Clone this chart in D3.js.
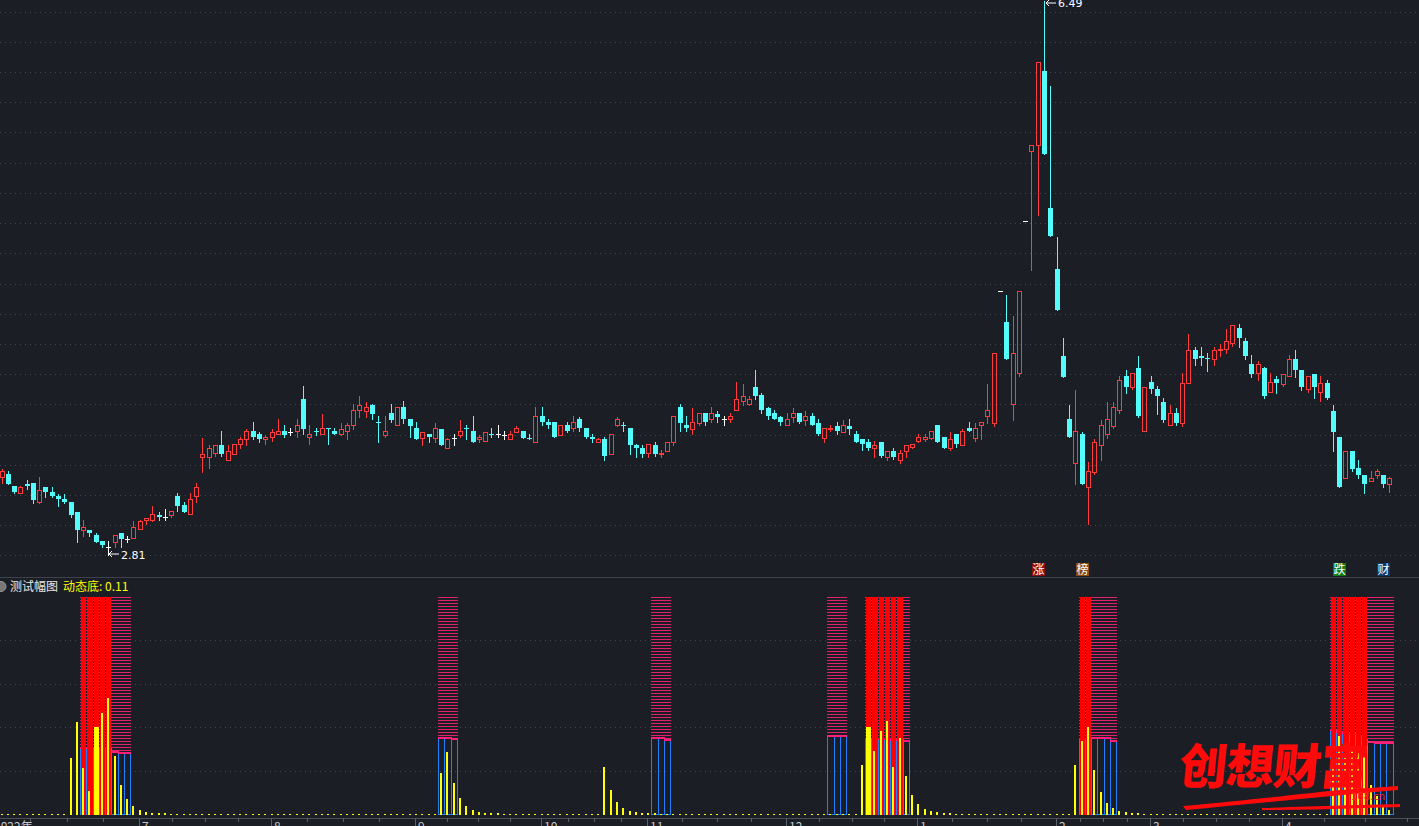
<!DOCTYPE html>
<html><head><meta charset="utf-8">
<script src="https://cdn.jsdelivr.net/npm/d3@7"></script>
<style>html,body{margin:0;padding:0;background:#1b1e25;overflow:hidden}svg{display:block}</style>
</head><body><svg id="c" width="1419" height="826"></svg>
<script>
// ---- price data (daily candles) ----
const openP=[3.29,3.31,3.23,3.18,3.24,3.25,3.12,3.22,3.19,3.16,3.14,3.12,3.05,2.93,2.93,2.90,2.86,2.82,2.85,2.91,2.87,2.88,2.94,3.00,3.00,3.03,3.02,3.03,3.16,3.10,3.04,3.16,3.42,3.42,3.45,3.50,3.40,3.44,3.51,3.54,3.60,3.58,3.54,3.56,3.58,3.60,3.59,3.60,3.81,3.56,3.60,3.58,3.62,3.60,3.58,3.60,3.64,3.74,3.73,3.77,3.66,3.57,3.72,3.64,3.76,3.68,3.62,3.55,3.58,3.55,3.61,3.48,3.55,3.57,3.62,3.60,3.54,3.53,3.58,3.58,3.57,3.54,3.59,3.60,3.55,3.52,3.70,3.66,3.66,3.57,3.64,3.62,3.68,3.62,3.56,3.52,3.54,3.44,3.64,3.64,3.62,3.50,3.48,3.45,3.50,3.44,3.46,3.52,3.76,3.64,3.61,3.65,3.72,3.68,3.71,3.68,3.68,3.74,3.80,3.78,3.89,3.84,3.75,3.72,3.69,3.64,3.69,3.72,3.67,3.70,3.65,3.55,3.61,3.63,3.59,3.63,3.58,3.54,3.52,3.48,3.52,3.42,3.46,3.40,3.46,3.49,3.53,3.54,3.55,3.64,3.56,3.48,3.58,3.50,3.62,3.55,3.64,3.70,3.65,4.54,4.33,3.78,3.99,5.01,5.48,5.52,6.02,5.10,4.69,4.10,3.68,3.38,3.58,3.22,3.32,3.50,3.58,3.63,3.74,3.97,3.89,4.02,3.60,3.93,3.88,3.79,3.64,3.72,3.65,3.92,4.14,4.10,4.09,4.08,4.14,4.15,4.19,4.29,4.20,4.05,3.99,4.02,3.86,3.95,3.91,3.97,4.08,4.01,3.88,3.98,3.86,3.92,3.73,3.56,3.28,3.46,3.35,3.30,3.26,3.30,3.30,3.24];
const highP=[3.34,3.33,3.23,3.23,3.27,3.25,3.29,3.22,3.22,3.17,3.17,3.12,3.05,3.00,2.93,2.91,2.86,2.86,2.90,2.91,2.89,2.99,3.00,3.01,3.09,3.05,3.07,3.06,3.18,3.12,3.18,3.25,3.55,3.50,3.50,3.60,3.50,3.51,3.56,3.61,3.66,3.59,3.57,3.61,3.68,3.64,3.62,3.68,3.90,3.64,3.62,3.71,3.62,3.62,3.65,3.65,3.78,3.83,3.79,3.78,3.70,3.70,3.78,3.76,3.80,3.68,3.66,3.59,3.58,3.65,3.61,3.55,3.58,3.67,3.64,3.70,3.57,3.59,3.62,3.64,3.60,3.60,3.63,3.60,3.58,3.76,3.76,3.68,3.66,3.64,3.66,3.70,3.69,3.62,3.58,3.55,3.56,3.58,3.69,3.66,3.62,3.51,3.50,3.51,3.52,3.47,3.52,3.70,3.78,3.70,3.75,3.72,3.72,3.76,3.73,3.70,3.72,3.93,3.91,3.83,4.01,3.85,3.76,3.74,3.70,3.72,3.75,3.72,3.73,3.72,3.68,3.62,3.64,3.66,3.67,3.68,3.60,3.54,3.54,3.53,3.52,3.46,3.48,3.47,3.50,3.51,3.58,3.58,3.60,3.64,3.56,3.59,3.58,3.61,3.66,3.65,3.66,3.91,4.12,4.54,4.51,4.37,4.54,5.01,5.52,6.08,6.49,5.92,4.90,4.22,3.77,3.87,3.59,3.39,3.54,3.67,3.79,3.79,3.97,4.01,3.99,4.10,3.89,3.97,3.90,3.82,3.77,3.75,3.99,4.25,4.16,4.16,4.12,4.16,4.18,4.28,4.31,4.32,4.22,4.11,4.07,4.03,3.99,3.97,3.98,4.11,4.14,4.01,3.97,3.98,3.97,3.94,3.77,3.56,3.46,3.46,3.40,3.30,3.33,3.34,3.30,3.29];
const lowP=[3.25,3.24,3.18,3.18,3.21,3.11,3.11,3.15,3.15,3.09,3.11,3.02,2.85,2.89,2.89,2.85,2.82,2.81,2.82,2.82,2.85,2.88,2.94,2.97,2.99,3.00,3.00,3.02,3.06,3.05,3.04,3.12,3.32,3.35,3.43,3.43,3.40,3.44,3.48,3.50,3.54,3.52,3.51,3.53,3.58,3.56,3.57,3.56,3.58,3.51,3.57,3.58,3.51,3.58,3.57,3.54,3.61,3.69,3.69,3.68,3.52,3.56,3.66,3.64,3.65,3.56,3.54,3.50,3.52,3.52,3.50,3.48,3.50,3.56,3.54,3.52,3.52,3.53,3.56,3.56,3.54,3.54,3.59,3.55,3.54,3.52,3.64,3.62,3.56,3.57,3.59,3.60,3.60,3.55,3.52,3.52,3.40,3.44,3.63,3.60,3.44,3.42,3.42,3.42,3.43,3.42,3.46,3.50,3.60,3.60,3.58,3.64,3.64,3.66,3.66,3.64,3.66,3.74,3.77,3.77,3.81,3.72,3.68,3.68,3.64,3.64,3.66,3.65,3.64,3.64,3.57,3.52,3.60,3.58,3.59,3.58,3.52,3.47,3.47,3.42,3.42,3.40,3.41,3.38,3.42,3.48,3.52,3.53,3.54,3.52,3.48,3.47,3.49,3.50,3.60,3.53,3.54,3.65,3.63,4.54,4.08,3.67,3.97,5.01,4.68,5.05,5.46,4.91,4.41,3.96,3.56,3.24,3.24,2.97,3.31,3.40,3.55,3.62,3.72,3.85,3.88,3.69,3.60,3.85,3.71,3.66,3.64,3.64,3.63,3.92,4.04,4.04,4.00,4.04,4.10,4.12,4.17,4.16,4.08,3.96,3.94,3.82,3.86,3.85,3.90,3.97,3.96,3.87,3.86,3.82,3.80,3.81,3.46,3.22,3.28,3.33,3.28,3.18,3.26,3.28,3.22,3.19];
const closeP=[3.33,3.24,3.19,3.22,3.23,3.13,3.20,3.19,3.16,3.14,3.12,3.03,2.93,2.95,2.91,2.85,2.83,2.82,2.90,2.87,2.87,2.95,2.99,3.01,3.04,3.02,3.02,3.06,3.09,3.05,3.14,3.22,3.44,3.48,3.50,3.44,3.46,3.51,3.54,3.60,3.56,3.54,3.56,3.59,3.60,3.57,3.59,3.64,3.61,3.58,3.59,3.62,3.61,3.58,3.61,3.64,3.74,3.77,3.76,3.71,3.65,3.60,3.67,3.76,3.68,3.63,3.54,3.59,3.56,3.62,3.50,3.54,3.55,3.60,3.61,3.52,3.56,3.59,3.57,3.58,3.57,3.58,3.62,3.55,3.54,3.70,3.66,3.64,3.56,3.64,3.60,3.66,3.62,3.56,3.54,3.54,3.43,3.58,3.68,3.63,3.50,3.48,3.44,3.51,3.44,3.45,3.52,3.70,3.65,3.62,3.66,3.72,3.66,3.72,3.69,3.68,3.70,3.81,3.83,3.81,3.83,3.74,3.70,3.68,3.66,3.68,3.72,3.66,3.70,3.64,3.58,3.62,3.62,3.60,3.64,3.61,3.52,3.51,3.48,3.50,3.43,3.46,3.42,3.45,3.50,3.51,3.56,3.56,3.60,3.52,3.48,3.54,3.51,3.60,3.60,3.62,3.66,3.74,4.12,4.54,4.08,4.12,4.54,5.01,5.52,6.08,5.46,4.91,4.41,3.96,3.56,3.60,3.24,3.33,3.52,3.64,3.68,3.76,3.94,3.89,3.99,3.70,3.89,3.88,3.83,3.67,3.72,3.65,3.92,4.14,4.08,4.09,4.08,4.14,4.15,4.20,4.31,4.22,4.10,3.98,4.05,3.83,3.93,3.92,3.98,4.08,4.01,3.89,3.97,3.89,3.92,3.82,3.59,3.22,3.46,3.34,3.30,3.24,3.28,3.33,3.24,3.28];

// ---- axis labels ----
const monthIdx=[-1,22,43,66,86,103,125,146,168,183,204];
const monthLabels=["2022年","7","8","9","10","11","12","1","2","3","4"];

// ---- indicator (sub chart) ----
const yellowIdx=[11,12,13,14,16,17,18,19,20,21,22,23,24,25,26,70,71,72,73,74,75,76,77,78,79,96,97,98,99,100,101,102,103,104,137,139,140,141,142,143,144,145,146,147,148,149,150,151,171,172,173,174,175,176,177,178,179,180,181,212,213,214,215,216,217,218,219,220,221];
const yellowVal=[26,42.5,21.4,10.8,46.6,53.5,26.9,13.4,7,3.9,2.1,1.2,0.7,0.7,0.5,19,28.6,14.4,7.5,3.8,2,1,0.6,0.6,0.6,22,11.1,5.6,2.9,1.5,1.0,0.6,0.6,0.6,22.6,29,38.2,42.8,21.7,35,17.6,8.9,4.7,2.4,1.5,1.0,0.6,0.6,22.6,33.6,40,20.3,10.2,5.2,2.9,1.5,1.0,0.6,0.6,23,36,26,30,28,26.7,13.4,8.4,3.5,2];
const wideIdx=[15,138];
const wideVal=[40.2,40];
const blueIdx=[13,14,15,16,17,18,19,20,70,71,72,104,105,106,132,133,134,138,139,140,141,142,143,144,172,173,174,175,176,177,212,213,214,215,216,217,218,219,220,221];
const blueVal=[30.5,30.5,30.5,30.5,30.5,28.7,28.3,28.3,35.1,35.1,34.5,35.1,35.1,34.2,36,36,36,34.6,34.6,34.6,34.6,34,34,33.6,34.1,34.1,34.9,34.9,34.9,33.8,38.7,37.9,37.2,37.2,35.6,34.1,33.3,32.6,32.6,32.6];
const redIdx=[13,14,15,16,17,138,139,140,141,142,143,172,173,212,213,214,215,216,217];
const dynBottom=0.11;

// ---- markers ----
const markIdx=[165,172,213,220];
const markText=["涨","榜","跌","财"];
const markBg=["#8a0c0c","#8a4a10","#0d7a12","#0c3a6e"];

const W=1419,H=826,N=openP.length,STEP=6.28;
const svg=d3.select("#c");
const BG="#1b1e25", RED="#ff3b3b", CYAN="#54fcfc";
svg.append("rect").attr("width",W).attr("height",H).attr("fill",BG);

const x=d3.scaleLinear().domain([0,N-1]).range([1.5,1.5+STEP*(N-1)]);
const y=d3.scaleLinear().domain([2.81,6.49]).range([548,1]);
const ys=d3.scaleLinear().domain([0,100]).range([814.5,596.5]);
const gridY=d3.scaleLinear().domain([0,18]).range([11.7,555.3]);

// defs
const defs=svg.append("defs");
const pat=defs.append("pattern").attr("id","hatch").attr("patternUnits","userSpaceOnUse")
  .attr("width",4).attr("height",3).attr("y",597);
pat.append("rect").attr("width",4).attr("height",3).attr("fill","#1b1e25");
pat.append("rect").attr("width",4).attr("height",1).attr("fill","#e0206e");

// main grid
const gM=svg.append("g").attr("shape-rendering","crispEdges");
gM.selectAll("line").data(d3.range(19)).join("line")
  .attr("x1",0).attr("x2",W).attr("y1",d=>Math.round(gridY(d))+0.5).attr("y2",d=>Math.round(gridY(d))+0.5)
  .attr("stroke","#434853").attr("stroke-dasharray","1,4");
// sub grid
svg.append("g").attr("shape-rendering","crispEdges").selectAll("line").data([20,40,60,80]).join("line")
  .attr("x1",0).attr("x2",W).attr("y1",d=>Math.round(ys(d))+0.5).attr("y2",d=>Math.round(ys(d))+0.5)
  .attr("stroke","#434853").attr("stroke-dasharray","1,4");

// separator
svg.append("line").attr("x1",0).attr("x2",W).attr("y1",577.5).attr("y2",577.5).attr("stroke","#3d424d");

// candles
const gC=svg.append("g").attr("shape-rendering","crispEdges");
d3.range(N).forEach(i=>{
  const o=openP[i],c=closeP[i],h=highP[i],l=lowP[i];
  const xr=Math.round(x(i));
  const yt=Math.round(y(Math.max(o,c))), yb=Math.round(y(Math.min(o,c)));
  const yh=Math.round(y(h)), yl=Math.round(y(l));
  if(c>o){
    if(yh<yt) gC.append("line").attr("x1",xr+0.5).attr("x2",xr+0.5).attr("y1",yh).attr("y2",yt).attr("stroke",RED);
    if(yl>yb) gC.append("line").attr("x1",xr+0.5).attr("x2",xr+0.5).attr("y1",yb).attr("y2",yl+1).attr("stroke",RED);
    gC.append("rect").attr("x",xr-1.5).attr("y",yt+0.5).attr("width",4).attr("height",Math.max(yb-yt,1))
      .attr("fill","none").attr("stroke",RED);
  } else if(c<o){
    gC.append("line").attr("x1",xr+0.5).attr("x2",xr+0.5).attr("y1",yh).attr("y2",yl+1).attr("stroke",CYAN);
    gC.append("rect").attr("x",xr-2).attr("y",yt).attr("width",5).attr("height",Math.max(yb-yt,1)).attr("fill",CYAN);
  } else {
    gC.append("line").attr("x1",xr+0.5).attr("x2",xr+0.5).attr("y1",yh).attr("y2",yl+1).attr("stroke","#ffffff");
    gC.append("line").attr("x1",xr-2).attr("x2",xr+3).attr("y1",yt+0.5).attr("y2",yt+0.5).attr("stroke","#ffffff");
  }
});

// high / low labels
const iMax=d3.maxIndex(highP), iMin=d3.minIndex(lowP);
const lab=svg.append("g").attr("fill","#ffffff").attr("font-family","DejaVu Sans, sans-serif").attr("font-size",11);
{
  const xm=Math.round(x(iMax)), ym=Math.round(y(highP[iMax]));
  lab.append("path").attr("d",`M${xm+2},${ym+2} l10,0 M${xm+2},${ym+2} l3,-3 M${xm+2},${ym+2} l3,3`).attr("stroke","#fff").attr("fill","none");
  lab.append("text").attr("x",xm+14).attr("y",ym+6).text(highP[iMax].toFixed(2));
  const xn=Math.round(x(iMin)), yn=Math.round(y(lowP[iMin]));
  lab.append("path").attr("d",`M${xn+0.5},${yn} l0,8 M${xn+1},${yn+6} l10,0 M${xn+1},${yn+6} l3,-3 M${xn+1},${yn+6} l3,3`).attr("stroke","#fff").attr("fill","none");
  lab.append("text").attr("x",xn+13).attr("y",yn+11).text(lowP[iMin].toFixed(2));
}

// markers
const gMk=svg.append("g");
markIdx.forEach((d,k)=>{
  const xc=Math.round(x(d));
  gMk.append("rect").attr("x",xc-6).attr("y",563).attr("width",13).attr("height",13).attr("fill",markBg[k]);
  gMk.append("text").attr("x",xc+0.5).attr("y",574).attr("text-anchor","middle").attr("font-size",12)
    .attr("font-family","Noto Sans CJK SC").attr("fill","#ffffff").text(markText[k]);
});

// ---- sub chart ----
const gS=svg.append("g").attr("shape-rendering","crispEdges");
const slotL=i=>Math.round(x(i)-STEP/2), slotR=i=>Math.round(x(i)+STEP/2);
blueIdx.forEach((d,k)=>{
  const t=Math.round(ys(blueVal[k]));
  gS.append("rect").attr("x",slotL(d)).attr("y",Math.round(ys(100))).attr("width",slotR(d)-slotL(d)+1)
    .attr("height",t-Math.round(ys(100))).attr("fill","url(#hatch)");
});
blueIdx.forEach((d,k)=>{
  const t=Math.round(ys(blueVal[k]));
  gS.append("rect").attr("x",slotL(d)+0.5).attr("y",t+0.5).attr("width",slotR(d)-slotL(d))
    .attr("height",Math.round(ys(0))-t-1).attr("fill","none").attr("stroke","#1f7fff");
  gS.append("rect").attr("x",slotL(d)).attr("y",t-1).attr("width",slotR(d)-slotL(d)+1).attr("height",2).attr("fill","#ff1f7a");
});
redIdx.forEach(d=>{
  gS.append("rect").attr("x",slotL(d)+1).attr("y",Math.round(ys(100))).attr("width",slotR(d)-slotL(d)-1)
    .attr("height",Math.round(ys(0))-Math.round(ys(100))).attr("fill","#ff0000");
});
wideIdx.forEach((d,k)=>{
  gS.append("rect").attr("x",slotL(d)+1).attr("y",Math.round(ys(wideVal[k]))).attr("width",slotR(d)-slotL(d)-1)
    .attr("height",Math.round(ys(0))-Math.round(ys(wideVal[k]))).attr("fill","#ffff00");
});
const yv=new Map(yellowIdx.map((d,k)=>[d,yellowVal[k]]));
d3.range(N).forEach(i=>{
  const v=yv.get(i)||0;
  const top=Math.min(ys(v),813.5);
  gS.append("rect").attr("x",Math.round(x(i))-1).attr("y",top).attr("width",2).attr("height",815-top).attr("fill","#ffff00");
});

// legend
const lg=svg.append("g").attr("font-family","Noto Sans CJK SC").attr("font-size",12);
lg.append("circle").attr("cx",1).attr("cy",586.5).attr("r",5).attr("fill","#777").attr("stroke","#999");
lg.append("text").attr("x",10).attr("y",591).attr("fill","#e8e8e8").text("测试幅图");
lg.append("text").attr("x",63).attr("y",591).attr("fill","#ffff00").text("动态底: "+dynBottom.toFixed(2));

// x axis
const gA=svg.append("g").attr("shape-rendering","crispEdges");
gA.append("line").attr("x1",0).attr("x2",W).attr("y1",818.5).attr("y2",818.5).attr("stroke","#4a4f5a");
const tickX=i=>Math.round(x(i))-1;
monthIdx.forEach((d,k)=>{
  const tx=tickX(d);
  gA.append("line").attr("x1",tx+0.5).attr("x2",tx+0.5).attr("y1",818).attr("y2",826).attr("stroke","#5a5f6a");
  const nx=k<monthIdx.length-1?tickX(monthIdx[k+1]):tx+166;
  [1,2,3].forEach(q=>{
    const mx=Math.round(tx+(nx-tx)*q/4);
    gA.append("line").attr("x1",mx+0.5).attr("x2",mx+0.5).attr("y1",818).attr("y2",822).attr("stroke","#5a5f6a");
  });
  gA.append("text").attr("x",tx+(k===0?0:3)).attr("y",831).attr("fill","#c8c8c8").attr("font-size",12)
    .attr("font-family","Noto Sans CJK SC").text(monthLabels[k]);
});

// watermark
const wm=svg.append("g");
wm.append("path").attr("d","M1183,806 C1250,800 1300,794 1340,790 L1398,786 L1398,790 C1330,796 1260,803 1186,810 Z").attr("fill","#ff0a0a");
wm.append("path").attr("d","M1262,808 C1320,806 1360,805 1400,804 L1400,807 C1360,808 1320,810 1262,810 Z").attr("fill","#ff0a0a");
wm.append("text").attr("x",1180).attr("y",784).attr("font-size",48).attr("font-weight",900)
  .attr("font-family","Noto Sans CJK SC").attr("fill","#ff0a0a").attr("letter-spacing",-1)
  .attr("transform","skewX(-6) translate(80,0)").text("创想财富");
wm.append("text").attr("x",1351).attr("y",800).attr("font-size",10).attr("font-family","DejaVu Sans")
  .attr("fill","#ff2020").text("168.cn");
</script></body></html>
